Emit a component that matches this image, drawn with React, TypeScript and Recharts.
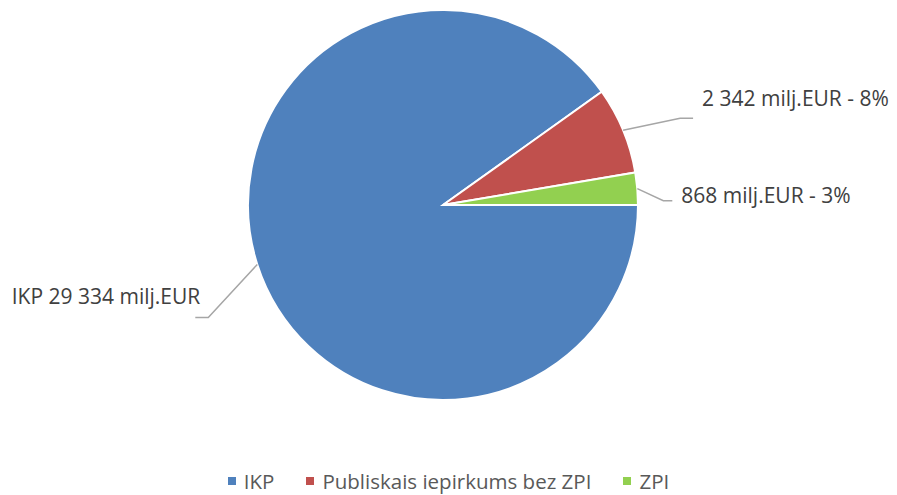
import { PieChart, Pie, Cell, Legend } from 'recharts'

const categories = ['IKP', 'Publiskais iepirkums bez ZPI', 'ZPI']
const values = [29334, 2342, 868]
const pctLabels = [90, 8, 3]
const colors = ['#4f81bd', '#c0504d', '#92d050']

// leader line layout per slice: elbow offset from the slice edge, tail length, text lift
const leaderDx = [-49, 57, 26]
const leaderDy = [53, -12, 12]
const tail = [-13, 13, 9]
const lift = [-21, -20, -6]

const data = categories.map((name, i) => ({ name, value: values[i] }))

const fmt = (n: number) => String(n).replace(/\B(?=(\d{3})+(?!\d))/g, ' ')

const RAD = Math.PI / 180

function renderLabel(props: any) {
  const { cx, cy, midAngle, outerRadius, index, value } = props
  const sx = cx + outerRadius * Math.cos(-midAngle * RAD)
  const sy = cy + outerRadius * Math.sin(-midAngle * RAD)
  const mx = sx + leaderDx[index]
  const my = sy + leaderDy[index]
  const ex = mx + tail[index]
  const left = tail[index] < 0
  const text =
    index === 0
      ? `${categories[0]} ${fmt(value)} milj.EUR`
      : `${fmt(value)} milj.EUR - ${pctLabels[index]}%`
  return (
    <g>
      <polyline
        points={`${sx},${sy} ${mx},${my} ${ex},${my}`}
        fill="none"
        stroke="#a6a6a6"
        strokeWidth={1.5}
      />
      <text
        x={ex + (left ? 5 : 9)}
        y={my + lift[index]}
        textAnchor={left ? 'end' : 'start'}
        dominantBaseline="central"
        fill="#404040"
        fontSize={21}
      >
        {text}
      </text>
    </g>
  )
}

function renderLegend() {
  return (
    <div
      style={{
        display: 'flex',
        justifyContent: 'center',
        alignItems: 'center',
        fontSize: 20.5,
        lineHeight: '28px',
        color: '#595959',
      }}
    >
      {categories.map((c, i) => (
        <div key={c} style={{ display: 'flex', alignItems: 'center', marginLeft: i === 0 ? 0 : 32 }}>
          <span style={{ width: 8, height: 8, background: colors[i], display: 'inline-block', marginRight: 8 }} />
          <span>{c}</span>
        </div>
      ))}
    </div>
  )
}

export default function App() {
  return (
    <div style={{ width: 897, height: 495, fontFamily: '"Open Sans", sans-serif' }}>
      <style>{`body{margin:0}`}</style>
      <PieChart width={897} height={495} margin={{ top: 0, right: 0, bottom: 0, left: 0 }}>
        <Pie
          data={data}
          dataKey="value"
          nameKey="name"
          cx={443}
          cy={205}
          outerRadius={195}
          startAngle={0}
          endAngle={-360}
          stroke="#ffffff"
          strokeWidth={2}
          label={renderLabel}
          labelLine={false}
          isAnimationActive={false}
        >
          {data.map((d, i) => (
            <Cell key={d.name} fill={colors[i]} />
          ))}
        </Pie>
        <Legend
          verticalAlign="bottom"
          align="center"
          content={renderLegend}
          wrapperStyle={{ bottom: 0, left: 0, width: 897 }}
        />
      </PieChart>
    </div>
  )
}
